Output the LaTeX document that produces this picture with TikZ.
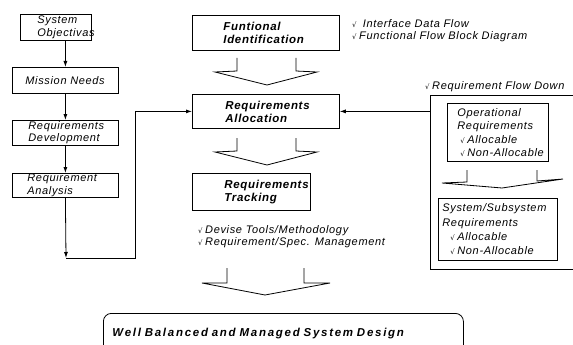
\documentclass[tikz,border=0pt]{standalone}
\usepackage{fontspec}
\setmainfont[LetterSpace=6]{Liberation Sans}
\newfontfamily\headfont[LetterSpace=6]{Liberation Sans}
\newfontfamily\titlefont[LetterSpace=15]{Liberation Sans}
\newfontfamily\symfont{DejaVu Sans}
\usetikzlibrary{arrows.meta}

% small check mark in front of list items
\newcommand\tick{{\symfont\fontsize{7}{7}\selectfont √}\kern2.5pt}

\tikzset{
  box/.style={draw, line width=0.8pt, anchor=north west, align=left, inner ysep=0pt,
    font=\fontsize{11}{12.5}\selectfont\itshape},
  bbox/.style={box, font=\headfont\fontsize{11.5}{13}\selectfont\bfseries\itshape},
  note/.style={anchor=west, align=left, inner sep=0pt, font=\fontsize{11}{12}\selectfont\itshape},
  chev/.style={line width=0.8pt, line join=miter},
  link/.style={line width=0.8pt, -{Latex[length=6pt,width=4pt]}},
}

\begin{document}
\begin{tikzpicture}[x=1pt, y=-1pt]
\useasboundingbox (0,0) rectangle (573,345);

% left column
\node[box, minimum width=71, minimum height=26, inner xsep=17, text width=37] (sysobj) at (20,14) {System\\Objectivas};
\node[box, minimum width=106, minimum height=26, inner xsep=13, text width=80] (needs) at (12,67) {Mission~Needs};
\node[box, minimum width=106, minimum height=25, inner xsep=16, text width=74] (devel) at (12,120) {Requirements\\Development};
\node[box, minimum width=106, minimum height=24, inner xsep=15, text width=76] (anal) at (12,173) {Requirement\\Analysis};
\coordinate (c1) at (66,258);
\coordinate (c2) at (135,258);

\draw[link] (needs.north |- sysobj.south) -- (needs.north);
\draw[link] (needs) -- (devel);
\draw[link] (devel) -- (anal);
\draw[link] (anal.south) -- (c1);

% middle column
\node[bbox, minimum width=147, minimum height=35, inner xsep=31, text width=85] (funid) at (192,15) {Funtional\\Identification};
\node[bbox, minimum width=147, minimum height=34, inner xsep=33, text width=81] (alloc) at (192,94) {Requirements\\Allocation};
\node[bbox, minimum width=118, minimum height=37, inner xsep=32, text width=54] (track) at (192,173) {Requirements\\Tracking};
\node[note] (tools) at (198,237) {\tick Devise Tools/Methodology\\\tick Requirement/Spec. Management};

\draw[chev] (237,58) -- (237,71) -- (215,72) -- (267,85) -- (317,72) -- (296,71) -- (296,58);
\draw[chev] (237,138) -- (237,151) -- (215,152) -- (267,165) -- (317,152) -- (296,151) -- (296,138);
\draw[chev] (227,268) -- (227,283) -- (202,283) -- (265,295) -- (330,283) -- (304,283) -- (304,268);

\draw[link] (c1) -- (c2) |- (alloc.west);

% right side
\node[note] (iface) at (352,31) {\tick\ Interface Data Flow\\\tick Functional Flow Block Diagram};
\node[note] (flownote) at (425,87) {\tick Requirement Flow Down};
\node[draw, line width=0.8pt, anchor=north west, minimum width=160, minimum height=174, inner sep=0] (flowdown) at (430,95) {};
\node[box, minimum width=101, minimum height=58, inner xsep=10, text width=81,
  font=\fontsize{11}{13.5}\selectfont\itshape] (oper) at (447,103)
  {Operational\\Requirements\\\mbox{\hspace*{3pt}\tick Allocable}\\\mbox{\hspace*{3pt}\tick Non-Allocable}};
\node[box, minimum width=119, minimum height=62, inner xsep=4, text width=111,
  font=\fontsize{11}{14.3}\selectfont\itshape] (subsys) at (438,198)
  {System/Subsystem\\Requirements\\\mbox{\hspace*{8pt}\tick Allocable}\\\mbox{\hspace*{8pt}\tick Non-Allocable}};
\draw[chev] (467,170) -- (467,182) -- (442,183) -- (502,188) -- (563,179) -- (537,181) -- (537,170);

\draw[link] (flowdown.west |- alloc.east) -- (alloc.east);

% result
\node[draw, rounded corners=8, line width=0.8pt, anchor=north west, minimum width=360, minimum height=40,
  inner xsep=9, text width=342, align=left, font=\titlefont\fontsize{11.5}{14}\selectfont\bfseries\itshape]
  (design) at (103,313) {Well Balanced and Managed System Design};
\end{tikzpicture}
\end{document}
